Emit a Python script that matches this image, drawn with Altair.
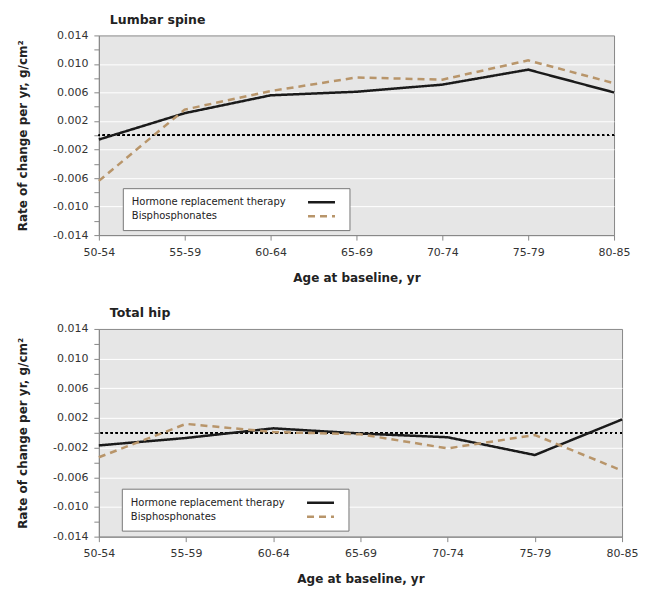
import altair as alt
import pandas as pd

ages = ["50-54", "55-59", "60-64", "65-69", "70-74", "75-79", "80-85"]
series_names = ["Hormone replacement therapy", "Bisphosphonates"]
series_colors = ["#1a1a1a", "#B8956A"]

lumbar_hrt = [-0.0006, 0.0031, 0.0056, 0.0061, 0.0071, 0.0092, 0.0060]
lumbar_bis = [-0.0064, 0.0036, 0.0062, 0.0081, 0.0078, 0.0105, 0.0073]
hip_hrt = [-0.0017, -0.0007, 0.0006, -0.0001, -0.0006, -0.0030, 0.0018]
hip_bis = [-0.0033, 0.0012, 0.0001, -0.0002, -0.0021, -0.0003, -0.0051]

y_ticks = [-0.014, -0.012, -0.010, -0.008, -0.006, -0.004, -0.002, 0.0,
           0.002, 0.004, 0.006, 0.008, 0.010, 0.012, 0.014]

FONT = "DejaVu Sans"


def to_long(hrt, bis):
    rows = []
    for name, vals in zip(series_names, [hrt, bis]):
        for a, v in zip(ages, vals):
            rows.append({"age": a, "series": name, "value": v})
    return pd.DataFrame(rows)


def panel(title, hrt, bis, width, height, lx, ly):
    df = to_long(hrt, bis)
    legend = alt.Legend(
        title=None, orient="none", legendX=lx, legendY=ly,
        fillColor="white", strokeColor="#777", padding=9,
        labelFont=FONT, labelFontSize=10, labelColor="#222", labelLimit=300,
        symbolType="M-13.5,0L13.5,0", symbolSize=4, symbolStrokeWidth=2.5,
        symbolFillColor="transparent",
        rowPadding=4, labelOffset={"expr": "-195"}, symbolOffset=185,
    )
    x = alt.X(
        "age:N", sort=ages,
        scale=alt.Scale(type="point", padding=0),
        axis=alt.Axis(title="Age at baseline, yr", labelAngle=0, grid=False,
                      tickSize=5, labelPadding=6, titlePadding=15,
                      domainColor="#888", tickColor="#888"),
    )
    y = alt.Y(
        "value:Q",
        scale=alt.Scale(domain=[-0.014, 0.014], nice=False, zero=False),
        axis=alt.Axis(
            title="Rate of change per yr, g/cm²", values=y_ticks, tickCount=40,
            labelExpr="abs(round(datum.value*1000)) % 4 == 2 ? replace(format(datum.value, '.3f'), '\u2212', '-') : ''",
            labelOverlap=False,
            grid=True, gridColor="white", gridWidth=1,
            gridOpacity={"condition": {"test": "abs(round(datum.value*1000)) % 4 == 2 && abs(datum.value) < 0.013", "value": 1}, "value": 0},
            tickSize=5, labelPadding=6, titlePadding=23,
            domainColor="#888", tickColor="#888",
        ),
    )
    zero = alt.Chart(df).mark_rule(color="black", strokeDash=[2, 3], strokeWidth=1.3).encode(
        y=alt.datum(0)
    )
    lines = alt.Chart(df).mark_line(strokeWidth=2.5).encode(
        x=x, y=y,
        color=alt.Color("series:N", sort=series_names,
                        scale=alt.Scale(domain=series_names, range=series_colors), legend=legend),
        strokeDash=alt.StrokeDash("series:N", sort=series_names,
                                  scale=alt.Scale(domain=series_names, range=[[1, 0], [7, 5]]), legend=legend),
    )
    return alt.layer(zero, lines).properties(
        width=width, height=height,
        title=alt.TitleParams(title, anchor="start", frame="group", fontSize=12.5, fontWeight="bold",
                              font=FONT, color="#222", dx=11, offset=3),
    )


top = panel("Lumbar spine", lumbar_hrt, lumbar_bis, 516, 200, 24, 153)
bottom = panel("Total hip", hip_hrt, hip_bis, 524, 208, 23, 160)

chart = alt.vconcat(top, bottom, spacing=23).resolve_scale(
    color="independent", strokeDash="independent"
).properties(
    padding={"left": 8, "top": 5, "right": 5, "bottom": 5}
).configure_view(
    fill="#E6E6E6", stroke="#888", strokeWidth=1
).configure_axis(
    labelFont=FONT, titleFont=FONT, labelFontSize=11, titleFontSize=12,
    labelColor="#333", titleColor="#222", titleFontWeight="bold",
)

chart.save("out.html", embed_options={"renderer": "svg", "actions": False})
